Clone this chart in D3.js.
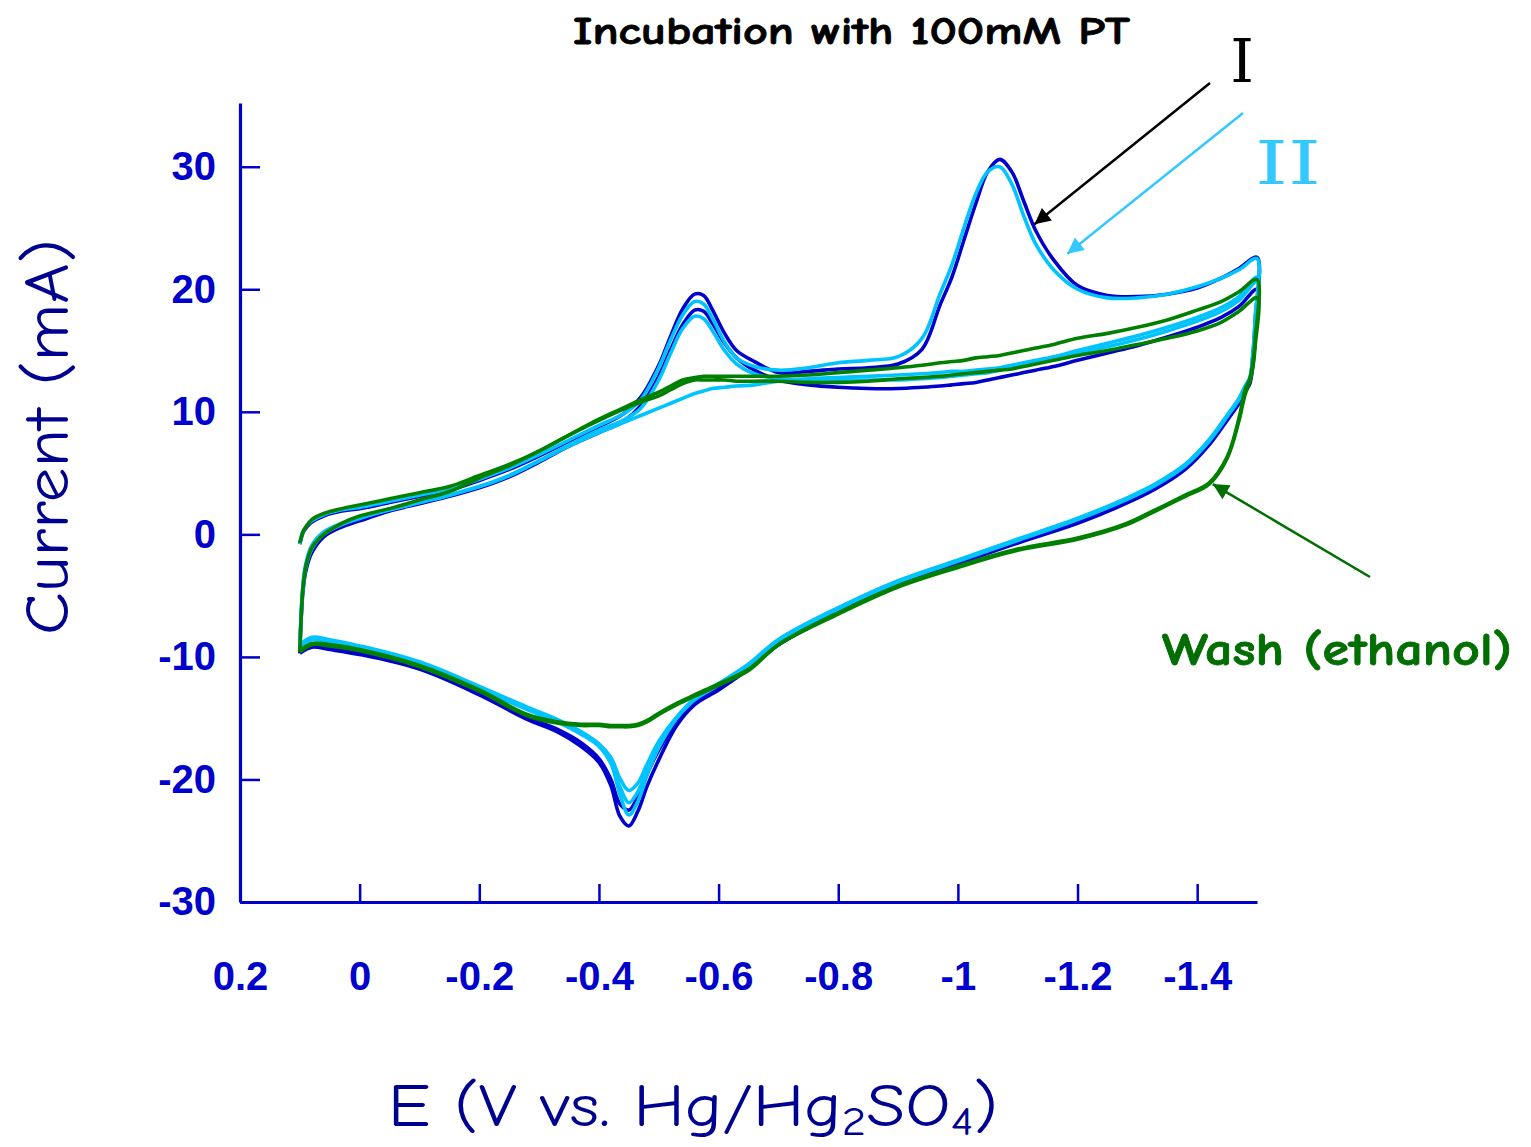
<!DOCTYPE html>
<html>
<head>
<meta charset="utf-8">
<script src="https://cdn.jsdelivr.net/npm/d3@7"></script>
<style>
  html, body { margin: 0; padding: 0; background: #ffffff; }
  svg { display: block; }
</style>
</head>
<body>
<div id="chart"></div>
<script>
// Cyclic voltammograms: incubation with 100 mM PT (scans I and II) and after ethanol wash.

// Potential grids (V vs. Hg/Hg2SO4) for the cathodic sweep and the return sweep
const potentialForward = [0.1, 0.098, 0.095, 0.09, 0.08, 0.06, 0.03, 0, -0.05, -0.1, -0.15, -0.2, -0.25, -0.3, -0.35, -0.4, -0.44, -0.47, -0.5, -0.52, -0.54, -0.56, -0.575, -0.59, -0.61, -0.63, -0.66, -0.7, -0.75, -0.8, -0.85, -0.9, -0.94, -0.97, -0.99, -1.01, -1.03, -1.05, -1.07, -1.09, -1.11, -1.13, -1.16, -1.2, -1.25, -1.3, -1.35, -1.4, -1.44, -1.47, -1.5];
const potentialReverse = [-1.5, -1.497, -1.493, -1.488, -1.48, -1.47, -1.45, -1.42, -1.38, -1.33, -1.28, -1.2, -1.1, -1.0, -0.9, -0.8, -0.7, -0.65, -0.6, -0.56, -0.53, -0.5, -0.48, -0.465, -0.45, -0.435, -0.42, -0.4, -0.37, -0.33, -0.28, -0.2, -0.1, 0, 0.05, 0.08, 0.1];

// Current (mA), scan I (dark blue)
const blueScan1Fwd = [-0.8, -0.4, 0.1, 0.5, 1.0, 1.5, 1.9, 2.1, 2.6, 3.1, 3.6, 4.4, 5.3, 6.4, 7.6, 8.8, 9.8, 11.2, 13.8, 16.2, 18.4, 19.6, 19.5, 18.3, 16.4, 15.0, 14.1, 13.2, 13.3, 13.5, 13.6, 13.9, 15.1, 18.7, 21.0, 24.0, 27.0, 29.6, 30.6, 29.6, 27.2, 24.8, 22.4, 20.3, 19.5, 19.4, 19.6, 20.1, 20.9, 21.7, 22.6];
const blueScan1Rev = [22.6, 17.5, 14.5, 12.6, 11.8, 10.8, 9.4, 7.4, 5.4, 3.8, 2.6, 1.0, -0.6, -2.3, -4.0, -6.3, -9.0, -11.0, -12.7, -13.9, -15.6, -18.4, -20.6, -22.6, -23.8, -23.0, -20.5, -18.6, -17.3, -16.1, -15.1, -13.1, -11.0, -9.8, -9.4, -9.2, -9.7];
const blueScan2Fwd = [-9.7, -7.2, -4.8, -3.0, -1.5, -0.2, 0.6, 1.1, 1.9, 2.5, 3.1, 3.8, 4.7, 5.9, 7.2, 8.3, 9.2, 10.5, 12.9, 15.1, 17.1, 18.3, 18.2, 17.2, 15.6, 14.4, 13.4, 12.6, 12.2, 12.0, 11.9, 11.9, 12.0, 12.1, 12.2, 12.3, 12.4, 12.6, 12.8, 13.0, 13.2, 13.4, 13.7, 14.2, 14.8, 15.4, 16.1, 16.9, 17.7, 18.6, 20.0];
const blueScan2Rev = [20.0, 16.0, 13.8, 12.3, 11.6, 10.7, 9.3, 7.3, 5.3, 3.7, 2.5, 0.9, -0.7, -2.4, -4.1, -6.4, -9.0, -10.9, -12.5, -13.7, -15.3, -17.6, -19.6, -21.4, -22.5, -22.0, -20.0, -18.3, -17.0, -15.9, -14.9, -13.0, -10.9, -9.7, -9.3, -9.1, -9.5];

// Current (mA), scan II (light blue)
const cyanScan1Fwd = [-0.8, -0.3, 0.2, 0.6, 1.1, 1.6, 2.0, 2.2, 2.7, 3.2, 3.7, 4.5, 5.4, 6.5, 7.7, 8.9, 9.8, 11.0, 13.6, 15.9, 17.9, 19.0, 18.8, 17.6, 15.7, 14.4, 13.7, 13.4, 13.6, 14.0, 14.2, 14.5, 16.0, 19.6, 22.0, 25.0, 27.8, 29.6, 30.0, 28.6, 26.0, 23.7, 21.6, 20.0, 19.3, 19.3, 19.6, 20.2, 20.9, 21.6, 22.5];
const cyanScan1Rev = [22.5, 17.8, 14.8, 12.8, 12.1, 11.1, 9.7, 7.7, 5.7, 4.1, 2.9, 1.3, -0.4, -2.1, -3.8, -6.0, -8.6, -10.6, -12.2, -13.4, -15.0, -17.4, -19.7, -21.8, -22.9, -21.2, -18.7, -17.3, -16.3, -15.3, -14.3, -12.6, -10.6, -9.3, -8.8, -8.6, -9.4];
const cyanScan2Fwd = [-9.4, -6.9, -4.5, -2.7, -1.2, 0.0, 0.8, 1.3, 2.0, 2.6, 3.2, 3.9, 4.8, 6.0, 7.3, 8.5, 9.3, 10.3, 12.6, 14.8, 16.8, 17.8, 17.6, 16.6, 15.0, 13.9, 13.1, 12.7, 12.6, 12.6, 12.6, 12.6, 12.7, 12.8, 12.9, 13.0, 13.1, 13.2, 13.4, 13.6, 13.8, 14.0, 14.3, 14.8, 15.3, 15.9, 16.6, 17.4, 18.2, 19.1, 20.6];
const cyanScan2Rev = [20.6, 16.3, 14.0, 12.6, 11.9, 11.0, 9.6, 7.6, 5.6, 4.0, 2.8, 1.2, -0.5, -2.2, -3.9, -6.1, -8.7, -10.7, -12.3, -13.5, -15.0, -17.2, -19.3, -21.0, -21.9, -20.6, -18.5, -17.2, -16.2, -15.2, -14.2, -12.5, -10.5, -9.2, -8.7, -8.5, -9.2];
const cyanScan3Fwd = [-9.2, -6.6, -4.2, -2.4, -0.9, 0.2, 0.9, 1.4, 2.0, 2.6, 3.2, 3.9, 4.8, 6.0, 7.2, 8.3, 9.1, 9.7, 10.3, 10.7, 11.1, 11.5, 11.7, 11.9, 12.0, 12.1, 12.2, 12.5, 12.7, 12.8, 12.9, 13.0, 13.1, 13.2, 13.3, 13.3, 13.4, 13.5, 13.6, 13.8, 14.0, 14.2, 14.5, 15.0, 15.6, 16.2, 16.9, 17.7, 18.5, 19.4, 21.0];
const cyanScan3Rev = [21.0, 16.6, 14.2, 12.7, 12.0, 11.1, 9.7, 7.7, 5.7, 4.1, 2.9, 1.3, -0.4, -2.1, -3.8, -6.0, -8.6, -10.6, -12.2, -13.4, -14.9, -16.9, -18.8, -20.3, -20.9, -19.9, -18.2, -17.1, -16.1, -15.1, -14.1, -12.4, -10.4, -9.1, -8.6, -8.4, -9.0];

// Current (mA), after wash in ethanol (green)
const greenScan1Fwd = [-0.7, -0.3, 0.2, 0.6, 1.2, 1.7, 2.1, 2.4, 2.9, 3.4, 3.9, 4.8, 5.7, 6.8, 8.1, 9.4, 10.3, 11.0, 11.6, 12.1, 12.6, 12.8, 12.9, 12.9, 12.9, 12.9, 12.9, 12.9, 13.0, 13.2, 13.4, 13.6, 13.8, 14.0, 14.1, 14.2, 14.4, 14.5, 14.6, 14.8, 15.0, 15.2, 15.5, 16.0, 16.4, 16.9, 17.5, 18.3, 19.0, 19.8, 20.8];
const greenScan1Rev = [20.8, 16.0, 14.0, 12.7, 11.8, 9.5, 6.3, 4.2, 3.2, 2.0, 0.85, -0.3, -1.2, -2.6, -4.2, -6.4, -9.0, -11.1, -12.3, -13.2, -13.9, -14.7, -15.3, -15.6, -15.7, -15.7, -15.7, -15.6, -15.6, -15.4, -14.8, -12.8, -10.8, -9.5, -9.1, -9.0, -9.6];
const greenScan2Fwd = [-9.6, -7.0, -4.5, -2.6, -1.1, 0.0, 0.9, 1.5, 2.1, 2.8, 3.5, 4.6, 5.6, 6.8, 8.1, 9.3, 10.2, 10.8, 11.3, 11.8, 12.3, 12.6, 12.6, 12.6, 12.6, 12.5, 12.5, 12.5, 12.4, 12.4, 12.5, 12.7, 12.8, 12.9, 13.0, 13.1, 13.2, 13.3, 13.4, 13.5, 13.7, 13.9, 14.2, 14.6, 15.0, 15.5, 16.0, 16.6, 17.3, 18.2, 19.3];
const greenScan2Rev = [19.3, 15.4, 13.6, 12.5, 11.4, 9.3, 6.2, 4.1, 3.1, 1.9, 0.75, -0.4, -1.3, -2.7, -4.3, -6.5, -9.0, -11.0, -12.2, -13.1, -13.8, -14.6, -15.2, -15.5, -15.6, -15.6, -15.6, -15.5, -15.5, -15.3, -14.7, -12.7, -10.7, -9.4, -9.0, -8.9, -9.5];

// Axis ticks
const xTickValues = [0.2, 0, -0.2, -0.4, -0.6, -0.8, -1, -1.2, -1.4];
const xTickLabels = ["0.2", "0", "-0.2", "-0.4", "-0.6", "-0.8", "-1", "-1.2", "-1.4"];
const yTickValues = [-30, -20, -10, 0, 10, 20, 30];
const yTickLabels = ["-30", "-20", "-10", "0", "10", "20", "30"];

// Arrow targets (E, I) on the curves
const arrowTargetI = [-1.128, 25.3];
const arrowTargetII = [-1.183, 22.9];
const arrowTargetWash = [-1.426, 4.1];

const W = 1531, H = 1147;
const COLORS = { blue: "#0000cc", cyan: "#00c3ff", green: "#008000", axis: "#0000cc", title: "#000090" };
const COMIC = "'Comic Sans MS', 'Comic Neue', 'Open Sans', 'DejaVu Sans', sans-serif";
const ARIAL = "Arial, 'Liberation Sans', Helvetica, sans-serif";

const svg = d3.select("#chart").append("svg").attr("width", W).attr("height", H);

const x = d3.scaleLinear().domain([0.2, -1.5]).range([240, 1257]);
const y = d3.scaleLinear().domain([-30, 35.2]).range([902, 103]);

// Scans: forward sweep followed by the return sweep
function cycle(fwd, rev) {
  const a = potentialForward.map((e, i) => [e, fwd[i]]);
  const b = potentialReverse.map((e, i) => [e, rev[i]]).slice(1);
  return a.concat(b);
}
const scans = [
  { color: COLORS.blue, pts: cycle(blueScan2Fwd, blueScan2Rev) },
  { color: COLORS.blue, pts: cycle(blueScan1Fwd, blueScan1Rev) },
  { color: COLORS.cyan, pts: cycle(cyanScan3Fwd, cyanScan3Rev) },
  { color: COLORS.cyan, pts: cycle(cyanScan2Fwd, cyanScan2Rev) },
  { color: COLORS.cyan, pts: cycle(cyanScan1Fwd, cyanScan1Rev) },
  { color: COLORS.green, pts: cycle(greenScan2Fwd, greenScan2Rev) },
  { color: COLORS.green, pts: cycle(greenScan1Fwd, greenScan1Rev) }
];

const line = d3.line()
  .x(d => x(d[0]))
  .y(d => y(d[1]))
  .curve(d3.curveCatmullRom.alpha(0.5));

svg.append("g").selectAll("path")
  .data(scans)
  .join("path")
  .attr("d", d => line(d.pts))
  .attr("fill", "none")
  .attr("stroke", d => d.color)
  .attr("stroke-width", 3.6)
  .attr("stroke-linejoin", "round");

// Axes
const xAxis = d3.axisBottom(x)
  .tickValues(xTickValues)
  .tickFormat((d, i) => xTickLabels[i])
  .tickSizeInner(-18).tickSizeOuter(0).tickPadding(60);
const yAxis = d3.axisLeft(y)
  .tickValues(yTickValues)
  .tickFormat((d, i) => yTickLabels[i])
  .tickSizeInner(-20).tickSizeOuter(0).tickPadding(24);

const gx = svg.append("g").attr("transform", `translate(0,${y(-30)})`).call(xAxis);
const gy = svg.append("g").attr("transform", `translate(${x(0.2)},0)`).call(yAxis);

[gx, gy].forEach(g => {
  g.select(".domain").attr("stroke", COLORS.axis).attr("stroke-width", 3.2);
  g.selectAll(".tick line").attr("stroke", COLORS.axis).attr("stroke-width", 2.5);
  g.selectAll(".tick text")
    .attr("fill", COLORS.axis)
    .style("font-family", ARIAL)
    .style("font-weight", "bold")
    .style("font-size", "40px");
});

// Axis titles
svg.append("text")
  .attr("transform", "translate(68,437) rotate(-90)")
  .attr("text-anchor", "middle")
  .attr("textLength", 396)
  .attr("lengthAdjust", "spacingAndGlyphs")
  .style("font-family", COMIC)
  .style("font-size", "62px")
  .attr("fill", COLORS.title)
  .text("Current (mA)");

const xt = svg.append("text")
  .attr("x", 388).attr("y", 1126)
  .attr("textLength", 610)
  .attr("lengthAdjust", "spacingAndGlyphs")
  .style("font-family", COMIC)
  .style("font-size", "60px")
  .attr("fill", COLORS.title);
xt.append("tspan").text("E (V vs. Hg/Hg");
xt.append("tspan").attr("dy", 9).style("font-size", "40px").text("2");
xt.append("tspan").attr("dy", -9).text("SO");
xt.append("tspan").attr("dy", 9).style("font-size", "40px").text("4");
xt.append("tspan").attr("dy", -9).text(")");

// Chart title
svg.append("text")
  .attr("x", 573).attr("y", 44)
  .attr("textLength", 557)
  .attr("lengthAdjust", "spacingAndGlyphs")
  .style("font-family", COMIC)
  .style("font-weight", "bold")
  .style("font-size", "38px")
  .attr("fill", "#000000")
  .attr("stroke", "#000000")
  .attr("stroke-width", 0.8)
  .text("Incubation with 100mM PT");

// Arrow markers
const defs = svg.append("defs");
function marker(id, color) {
  defs.append("marker")
    .attr("id", id)
    .attr("viewBox", "0 0 10 10")
    .attr("refX", 10).attr("refY", 5)
    .attr("markerUnits", "userSpaceOnUse")
    .attr("markerWidth", 20).attr("markerHeight", 16)
    .attr("orient", "auto")
    .append("path").attr("d", "M0,0 L10,5 L0,10 Z").attr("fill", color);
}
marker("arrBlack", "#000000");
marker("arrCyan", "#33c8ff");
marker("arrGreen", "#006e00");

function arrow(x1, y1, target, color, id, width) {
  svg.append("line")
    .attr("x1", x1).attr("y1", y1)
    .attr("x2", x(target[0])).attr("y2", y(target[1]))
    .attr("stroke", color).attr("stroke-width", width)
    .attr("marker-end", `url(#${id})`);
}
arrow(1210, 83, arrowTargetI, "#000000", "arrBlack", 2.5);
arrow(1243, 113, arrowTargetII, "#33c8ff", "arrCyan", 2.5);
arrow(1370, 577, arrowTargetWash, "#006e00", "arrGreen", 2.5);

// Annotation labels
svg.append("text")
  .attr("x", 1242).attr("y", 82)
  .attr("text-anchor", "middle")
  .style("font-family", "'DejaVu Serif', serif")
  .style("font-size", "60px")
  .attr("fill", "#000000")
  .text("I");

svg.append("text")
  .attr("x", 1255).attr("y", 184)
  .attr("textLength", 66)
  .attr("lengthAdjust", "spacingAndGlyphs")
  .style("font-family", "'DejaVu Serif', serif")
  .style("font-size", "60px")
  .attr("fill", "#33c8ff")
  .text("II");

svg.append("text")
  .attr("x", 1162).attr("y", 665)
  .attr("textLength", 350)
  .attr("lengthAdjust", "spacingAndGlyphs")
  .style("font-family", COMIC)
  .style("font-weight", "bold")
  .style("font-size", "46px")
  .attr("fill", "#006e00")
  .attr("stroke", "#006e00")
  .attr("stroke-width", 0.8)
  .text("Wash (ethanol)");
</script>
</body>
</html>
